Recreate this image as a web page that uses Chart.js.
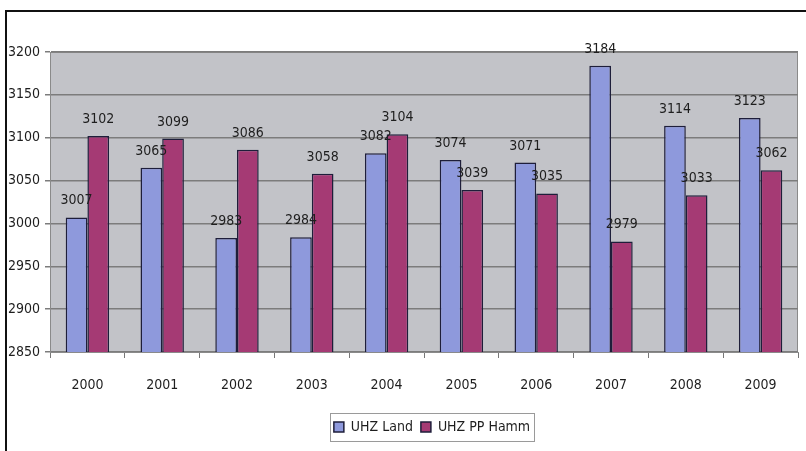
<!DOCTYPE html>
<html>
<head>
<meta charset="utf-8">
<script src="https://cdn.jsdelivr.net/npm/chart.js@4/dist/chart.umd.min.js"></script>
<style>
  html, body { margin: 0; padding: 0; background: #fff; }
  #wrap { position: relative; width: 806px; height: 451px; }
  #frame { position: absolute; left: 5px; top: 10px; right: 0; bottom: -2px;
           border-top: 2px solid #111; border-left: 2px solid #111; pointer-events: none; }
</style>
</head>
<body>
<div id="wrap">
  <canvas id="graphCanvas" width="806" height="451"></canvas>
  <div id="frame"></div>
</div>
<script>
const years = ['2000', '2001', '2002', '2003', '2004', '2005', '2006', '2007', '2008', '2009'];
const uhzLand = [3007, 3065, 2983, 2984, 3082, 3074, 3071, 3184, 3114, 3123];
const uhzHamm = [3102, 3099, 3086, 3058, 3104, 3039, 3035, 2979, 3033, 3062];
const yTicks = [2850, 2900, 2950, 3000, 3050, 3100, 3150, 3200];

const FONT = '"DejaVu Sans Condensed", "Liberation Sans", sans-serif';

// grey plot background
const plotBackground = {
    id: 'plotBackground',
    beforeDraw(chart) {
        const { ctx, chartArea: a } = chart;
        ctx.save();
        ctx.fillStyle = '#c2c3c8';
        ctx.fillRect(a.left, a.top, a.right - a.left, a.bottom - a.top);
        ctx.strokeStyle = '#8a8a8a';
        ctx.lineWidth = 1;
        ctx.strokeRect(a.left + 0.5, a.top + 0.5, a.right - a.left - 1, a.bottom - a.top - 1);
        ctx.restore();
    }
};

// value written above each bar
const valueLabels = {
    id: 'valueLabels',
    afterDatasetsDraw(chart) {
        const ctx = chart.ctx;
        ctx.save();
        ctx.font = '14px ' + FONT;
        ctx.fillStyle = '#1e1e1e';
        ctx.textAlign = 'center';
        ctx.textBaseline = 'alphabetic';
        chart.data.datasets.forEach((ds, i) => {
            chart.getDatasetMeta(i).data.forEach((bar, j) => {
                ctx.fillText(String(ds.data[j]), bar.x, bar.y - 13);
            });
        });
        ctx.restore();
    }
};

// legend sits a little right of centre, with a thin box round it
const legendBox = {
    id: 'legendBox',
    afterLayout(chart) {
        const lg = chart.legend;
        if (!lg) return;
        lg.left += 30;
        lg.right += 30;
    },
    afterDraw(chart) {
        const boxes = chart.legend && chart.legend.legendHitBoxes;
        if (!boxes || !boxes.length) return;
        const left = Math.min(...boxes.map(b => b.left)) - 4;
        const right = Math.max(...boxes.map(b => b.left + b.width)) + 4;
        const top = Math.min(...boxes.map(b => b.top)) - 7;
        const bottom = Math.max(...boxes.map(b => b.top + b.height)) + 7;
        const ctx = chart.ctx;
        ctx.save();
        ctx.strokeStyle = '#9a9a9a';
        ctx.lineWidth = 1;
        ctx.strokeRect(Math.round(left) + 0.5, Math.round(top) + 0.5, Math.round(right - left), Math.round(bottom - top));
        ctx.restore();
    }
};

const context = document.getElementById('graphCanvas').getContext('2d');
const chart = new Chart(context, {
    type: 'bar',
    data: {
        labels: years,
        datasets: [
            {
                label: 'UHZ Land',
                data: uhzLand,
                backgroundColor: '#8e99dc',
                borderColor: '#1e1e3a',
                borderWidth: 1.5,
                borderSkipped: 'bottom'
            },
            {
                label: 'UHZ PP Hamm',
                data: uhzHamm,
                backgroundColor: '#a53a74',
                borderColor: '#1e1e3a',
                borderWidth: 1.5,
                borderSkipped: 'bottom'
            }
        ]
    },
    options: {
        responsive: false,
        animation: false,
        datasets: {
            bar: { categoryPercentage: 0.58, barPercentage: 1 }
        },
        layout: {
            padding: { top: 52, right: 8, left: 6, bottom: 7 }
        },
        scales: {
            x: {
                grid: { display: true, drawOnChartArea: false, drawTicks: true, tickLength: 6, color: '#777', offset: true },
                border: { color: '#8a8a8a' },
                ticks: { color: '#1e1e1e', font: { family: FONT, size: 14 }, padding: 19 },
                afterFit(scale) { scale.height = 60; }
            },
            y: {
                min: 2850,
                max: 3200,
                afterBuildTicks(scale) { scale.ticks = yTicks.map(v => ({ value: v })); },
                grid: { color: '#7c7c7c', lineWidth: 1.5, tickLength: 5 },
                border: { color: '#8a8a8a' },
                ticks: { color: '#1e1e1e', font: { family: FONT, size: 14 }, padding: 5, callback: v => String(v) },
                afterFit(scale) { scale.width = 44; }
            }
        },
        plugins: {
            legend: {
                position: 'bottom',
                labels: {
                    color: '#1e1e1e',
                    font: { family: FONT, size: 14 },
                    boxWidth: 10,
                    boxHeight: 10,
                    padding: 8
                }
            },
            tooltip: { enabled: false }
        }
    },
    plugins: [plotBackground, valueLabels, legendBox]
});
</script>
</body>
</html>
